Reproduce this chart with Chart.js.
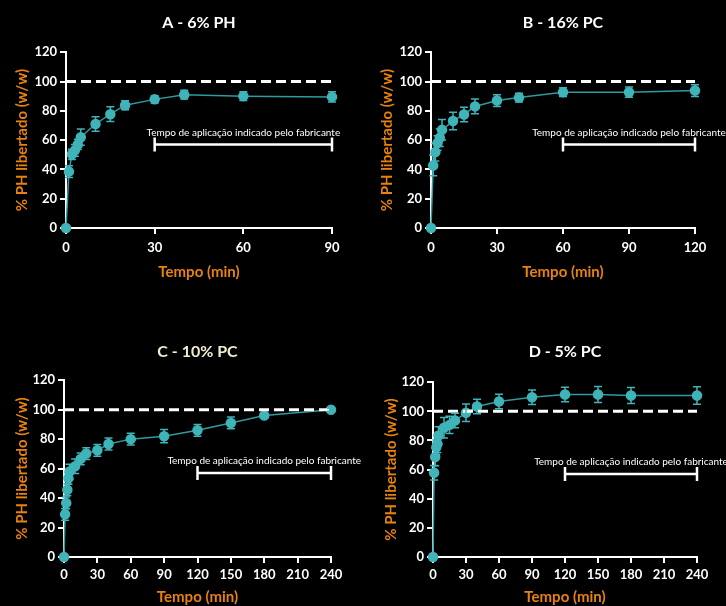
<!DOCTYPE html>
<html>
<head>
<meta charset="utf-8">
<script src="https://cdn.jsdelivr.net/npm/chart.js@4"></script>
<style>
  html, body { margin: 0; padding: 0; background: #000; }
  body { width: 726px; height: 606px; position: relative; overflow: hidden; }
  .box { position: absolute; }
</style>
</head>
<body>
<div class="box" style="left:0;top:0;width:363px;height:300px"><canvas id="chartA"></canvas></div>
<div class="box" style="left:363px;top:0;width:363px;height:300px"><canvas id="chartB"></canvas></div>
<div class="box" style="left:0;top:320px;width:363px;height:286px"><canvas id="chartC"></canvas></div>
<div class="box" style="left:363px;top:320px;width:363px;height:286px"><canvas id="chartD"></canvas></div>
<script>
// data (time in min, % PH released, +/- error)
const timeA = [0, 1, 2, 3, 4, 5, 10, 15, 20, 30, 40, 60, 90];
const meanA = [0, 38.5, 50.3, 53, 57, 62, 71, 77.7, 83.8, 87.8, 91, 90, 89.5];
const errA  = [0, 4, 3.5, 4, 3.5, 5.5, 5, 5, 3, 2.5, 3, 3, 3.5];

const timeB = [0, 1, 2, 3, 4, 5, 10, 15, 20, 30, 40, 60, 90, 120];
const meanB = [0, 42.7, 51.8, 58, 61.6, 67, 73, 77.5, 83, 87, 89, 92.7, 92.7, 93.8];
const errB  = [0, 7, 6, 5, 6, 7, 6, 5, 5, 4, 3, 3, 3.5, 4];

const timeC = [0, 1, 2, 3, 4, 5, 10, 15, 20, 30, 40, 60, 90, 120, 150, 180, 240];
const meanC = [0, 29, 36.7, 45.7, 53.4, 58, 61.6, 66.6, 70.2, 72.4, 76.7, 80, 82, 86, 91, 96, 100];
const errC  = [0, 4, 4, 4, 4, 5, 5, 4, 4, 4, 4, 4, 4.5, 4, 4, 1.5, 1];

const timeD = [0, 1, 2, 3, 4, 5, 10, 15, 20, 30, 40, 60, 90, 120, 150, 180, 240];
const meanD = [0, 57.8, 68.6, 75.4, 77.7, 83.4, 88.7, 90.7, 93.7, 99, 103.3, 106.7, 109.7, 111.5, 111.5, 110.9, 110.9];
const errD  = [0, 5, 6, 5, 6, 6, 7, 6, 5, 6, 5, 5, 5, 5, 5.5, 5.5, 6];

const yTicks = [0, 20, 40, 60, 80, 100, 120];
const bracketLabel = 'Tempo de aplicação indicado pelo fabricante';
const BRACKET_Y = 57;

const TEAL = '#3fb4b9';
const TEAL_LINE = '#2f9a9f';
const ORANGE = '#e8820c';

// error bars + manufacturer bracket, drawn through the chart scales
const extras = {
  id: 'extras',
  afterDatasetsDraw(chart, args, opts) {
    const { ctx, scales: { x, y } } = chart;
    ctx.save();
    // error bars
    ctx.strokeStyle = TEAL;
    ctx.lineWidth = 1.5;
    opts.times.forEach((t, i) => {
      const e = opts.errs[i];
      if (!e) return;
      const px = x.getPixelForValue(t);
      const top = y.getPixelForValue(opts.means[i] + e);
      const bot = y.getPixelForValue(opts.means[i] - e);
      ctx.beginPath();
      ctx.moveTo(px, top); ctx.lineTo(px, bot);
      ctx.moveTo(px - 4, top); ctx.lineTo(px + 4, top);
      ctx.moveTo(px - 4, bot); ctx.lineTo(px + 4, bot);
      ctx.stroke();
    });
    // bracket
    const x1 = x.getPixelForValue(opts.bracket[0]);
    const x2 = x.getPixelForValue(opts.bracket[1]);
    const by = y.getPixelForValue(BRACKET_Y);
    ctx.strokeStyle = '#fff';
    ctx.lineWidth = 2.5;
    ctx.beginPath();
    ctx.moveTo(x1, by); ctx.lineTo(x2, by);
    ctx.moveTo(x1, by - 7); ctx.lineTo(x1, by + 7);
    ctx.moveTo(x2, by - 7); ctx.lineTo(x2, by + 7);
    ctx.stroke();
    ctx.fillStyle = '#fff';
    ctx.font = '10px Lato';
    ctx.textAlign = 'center';
    ctx.textBaseline = 'middle';
    ctx.fillText(bracketLabel, (x1 + x2) / 2, by - 12);
    ctx.restore();
  }
};

function makeChart(id, title, titleColor, times, means, errs, xMax, xStep, bracket, lay) {
  const pts = times.map((t, i) => ({ x: t, y: means[i] }));
  new Chart(document.getElementById(id), {
    type: 'scatter',
    data: {
      datasets: [
        {
          data: [{ x: 0, y: 100 }, { x: xMax, y: 100 }],
          showLine: true,
          borderColor: '#fff',
          borderWidth: 3,
          borderDash: [10, 5],
          pointRadius: 0,
          clip: false,
        },
        {
          data: pts,
          showLine: true,
          borderColor: TEAL_LINE,
          borderWidth: 1.5,
          pointRadius: 4.5,
          pointBackgroundColor: TEAL,
          pointBorderColor: TEAL,
          clip: false,
        },
      ],
    },
    options: {
      responsive: true,
      maintainAspectRatio: false,
      animation: false,
      layout: { padding: { left: lay.left, right: lay.right, top: 0, bottom: lay.bottom } },
      plugins: {
        legend: { display: false },
        tooltip: { enabled: false },
        title: {
          display: true,
          text: title,
          color: titleColor,
          fullSize: false,
          font: { family: 'Lato', size: 16, weight: 'bold' },
          padding: { top: lay.titleTop, bottom: lay.titleBottom },
        },
        extras: { times, means, errs, bracket },
      },
      scales: {
        x: {
          type: 'linear',
          min: 0, max: xMax,
          afterFit(s) { s.height = lay.xh; },
          ticks: { stepSize: xStep, color: '#fff', padding: lay.xtick, maxRotation: 0,
                   font: { family: 'Lato', size: 13, weight: 'bold' } },
          grid: { drawOnChartArea: false, drawTicks: true, tickLength: 6, color: '#fff', lineWidth: 2 },
          border: { color: '#fff', width: 2 },
          title: { display: true, text: 'Tempo (min)', color: ORANGE, padding: { top: 0, bottom: lay.xtPad },
                   font: { family: 'Lato', size: 15, weight: 'bold' } },
        },
        y: {
          min: 0, max: 120,
          afterFit(s) { s.width = lay.yw; },
          afterBuildTicks(s) { s.ticks = yTicks.map(v => ({ value: v })); },
          ticks: { color: '#fff', padding: 3,
                   font: { family: 'Lato', size: 13, weight: 'bold' } },
          grid: { drawOnChartArea: false, drawTicks: true, tickLength: 6, color: '#fff', lineWidth: 2 },
          border: { color: '#fff', width: 2 },
          title: { display: true, text: '% PH libertado (w/w)', color: ORANGE, padding: 0,
                   font: { family: 'Lato', size: 15, weight: 'bold' } },
        },
      },
    },
    plugins: [extras],
  });
}

makeChart('chartA', 'A - 6% PH', '#fff', timeA, meanA, errA, 90, 30, [30, 90],
  { left: 13, right: 31, bottom: 12, titleTop: 13, titleBottom: 20, xh: 60, yw: 53, xtPad: 7, xtick: 6 });
makeChart('chartB', 'B - 16% PC', '#fff', timeB, meanB, errB, 120, 30, [60, 120],
  { left: 15, right: 31, bottom: 12, titleTop: 13, titleBottom: 20, xh: 60, yw: 53, xtPad: 7, xtick: 6 });
makeChart('chartC', 'C - 10% PC', '#f1eed0', timeC, meanC, errC, 240, 30, [120, 240],
  { left: 13, right: 32, bottom: 0, titleTop: 22, titleBottom: 19, xh: 49, yw: 51, xtPad: 0, xtick: 4 });
makeChart('chartD', 'D - 5% PC', '#fff', timeD, meanD, errD, 240, 30, [120, 240],
  { left: 19, right: 29, bottom: 0, titleTop: 22, titleBottom: 21, xh: 49, yw: 51, xtPad: 0, xtick: 4 });
</script>
</body>
</html>
